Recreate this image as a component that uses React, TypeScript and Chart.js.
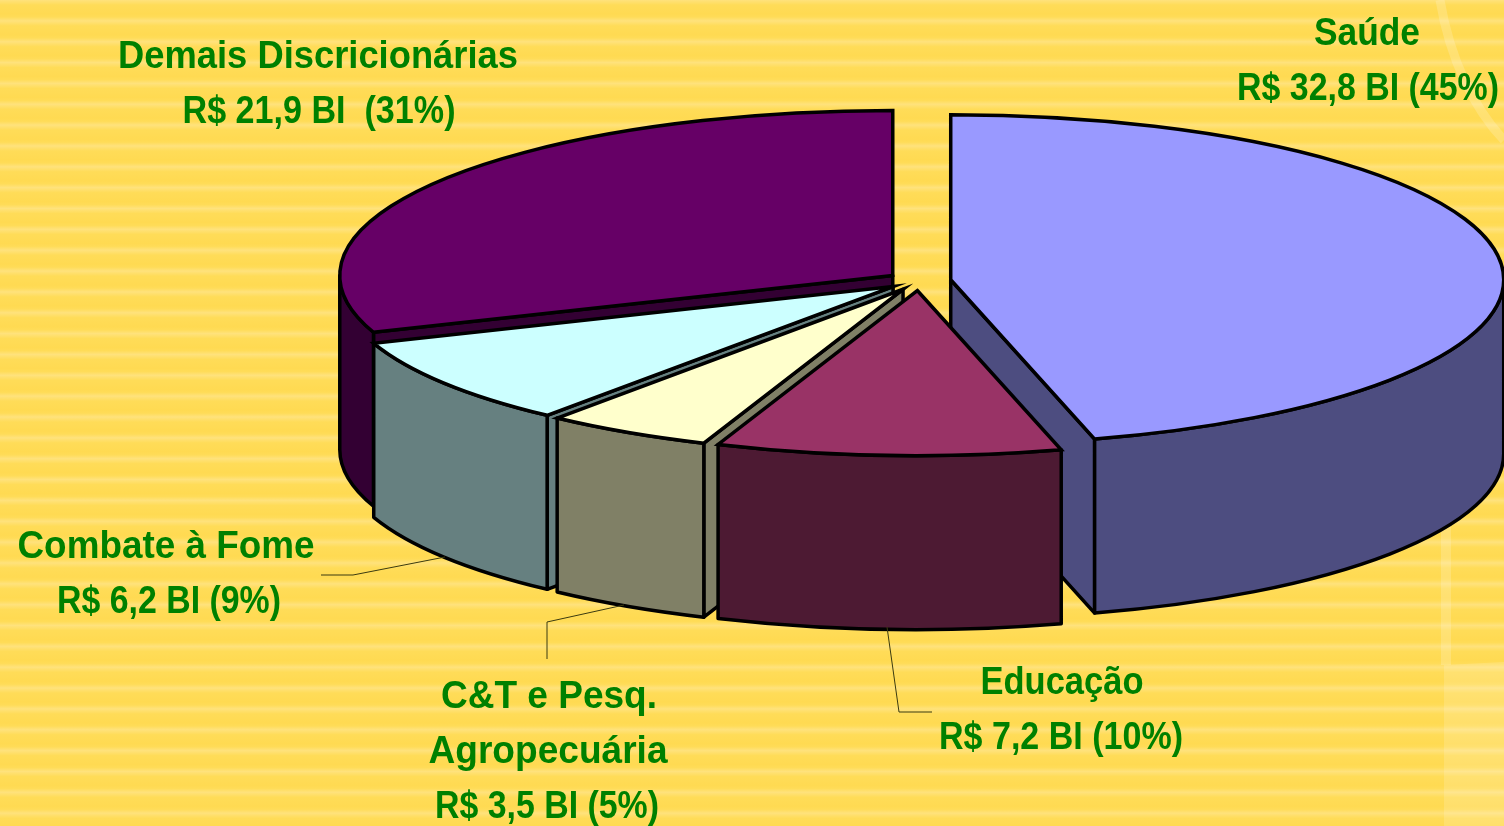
import React, { useEffect, useRef } from "react";
import { Chart, registerables } from "chart.js";

Chart.register(...registerables);

// ---- data (clockwise from 12 o'clock) ----
const categories = ["Saúde", "Educação", "C&T e Pesq. Agropecuária", "Combate à Fome", "Demais Discricionárias"];
const values = [32.8, 7.2, 3.5, 6.2, 21.9];
const topColors = ["#9999FF", "#993366", "#FFFFCC", "#CCFFFF", "#660066"];
const sideColors = ["#4D4D80", "#4D1A33", "#808066", "#668080", "#330033"];
const labelLines = [
  ["Saúde", "R$ 32,8 BI (45%)"],
  ["Educação", "R$ 7,2 BI (10%)"],
  ["C&T e Pesq.", "Agropecuária", "R$ 3,5 BI (5%)"],
  ["Combate à Fome", "R$ 6,2 BI (9%)"],
  ["Demais Discricionárias", "R$ 21,9 BI  (31%)"],
];

// ---- layout ----
const W = 1504;
const H = 826;
const CX = 919;
const CY = 281;
const RADIUS = 553;
const SQUASH = 165 / 553;
const DEPTH = 174;
const EXPLODE = 32;
const LINE = 3.5;
const GREEN = "#008000";
const labelPlace = [
  { xs: [1367, 1368], y: 45, widths: [106, 262] },
  { xs: [1062, 1061], y: 694, widths: [163, 244] },
  { xs: [549, 548, 547], y: 708, widths: [216, 239, 224] },
  { xs: [166, 169], y: 558, widths: [297, 224] },
  { xs: [318, 319], y: 68, widths: [400, 273] },
];
const LINE_GAP = 55;
const leaders = [
  [[887, 627], [899, 712], [932, 712]],
  [[547, 659], [547, 622], [624, 605]],
  [[321, 575], [353, 575], [445, 557]],
];

function geometry(arc: any) {
  const half = (arc.startAngle + arc.endAngle) / 2;
  const x = arc.x + Math.cos(half) * EXPLODE;
  const y = CY + (arc.y - CY + Math.sin(half) * EXPLODE) * SQUASH;
  return { x, y, rx: arc.outerRadius, ry: arc.outerRadius * SQUASH, a0: arc.startAngle, a1: arc.endAngle, half };
}

const pie3d = {
  id: "pie3d",
  beforeDatasetDraw() {
    // the arcs are drawn below, each one moved and squashed
    return false;
  },
  beforeDatasetsDraw(chart: any) {
    const ctx = chart.ctx;
    const arcs = chart.getDatasetMeta(0).data;
    const order = arcs.map((_: any, i: number) => i).sort((a: number, b: number) => {
      return Math.sin(geometry(arcs[a]).half) - Math.sin(geometry(arcs[b]).half);
    });
    ctx.save();
    ctx.lineWidth = LINE;
    ctx.strokeStyle = "#000";
    ctx.lineJoin = "round";
    const face = (g: any, a: number) => {
      const ex = g.x + g.rx * Math.cos(a);
      const ey = g.y + g.ry * Math.sin(a);
      ctx.beginPath();
      ctx.moveTo(g.x, g.y);
      ctx.lineTo(ex, ey);
      ctx.lineTo(ex, ey + DEPTH);
      ctx.lineTo(g.x, g.y + DEPTH);
      ctx.closePath();
      ctx.fill();
      ctx.stroke();
    };
    for (const i of order) {
      const g = geometry(arcs[i]);
      ctx.fillStyle = sideColors[i];
      // only the cut faces that look towards the viewer
      if (-Math.cos(g.a0) > 1e-6) face(g, g.a0);
      if (Math.cos(g.a1) > 1e-6) face(g, g.a1);
      const from = Math.max(g.a0, 0);
      const to = Math.min(g.a1, Math.PI);
      if (to > from) {
        ctx.beginPath();
        ctx.ellipse(g.x, g.y, g.rx, g.ry, 0, from, to);
        ctx.ellipse(g.x, g.y + DEPTH, g.rx, g.ry, 0, to, from, true);
        ctx.closePath();
        ctx.fill();
        ctx.stroke();
      }
    }
    ctx.restore();
    // the top of every slice: the library's arc element, squashed and pulled out
    for (const arc of arcs) {
      const g = geometry(arc);
      ctx.save();
      ctx.translate(0, CY);
      ctx.scale(1, SQUASH);
      ctx.translate(0, -CY);
      ctx.translate(Math.cos(g.half) * EXPLODE, Math.sin(g.half) * EXPLODE);
      arc.draw(ctx);
      ctx.restore();
    }
  },
  afterDatasetsDraw(chart: any) {
    const ctx = chart.ctx;
    const arcs = chart.getDatasetMeta(0).data;
    ctx.save();
    ctx.lineWidth = LINE;
    ctx.strokeStyle = "#000";
    ctx.lineJoin = "miter";
    for (const arc of arcs) {
      const g = geometry(arc);
      ctx.beginPath();
      ctx.moveTo(g.x, g.y);
      ctx.ellipse(g.x, g.y, g.rx, g.ry, 0, g.a0, g.a1);
      ctx.closePath();
      ctx.stroke();
    }
    // leader lines
    ctx.lineWidth = 1;
    ctx.strokeStyle = "#3a3a10";
    for (const pts of leaders) {
      ctx.beginPath();
      pts.forEach(([x, y], i) => (i ? ctx.lineTo(x, y) : ctx.moveTo(x, y)));
      ctx.stroke();
    }
    // labels
    ctx.fillStyle = GREEN;
    ctx.textAlign = "center";
    ctx.textBaseline = "alphabetic";
    ctx.font = 'bold 38px "Liberation Sans", Arial, sans-serif';
    labelLines.forEach((lines, i) => {
      const p = labelPlace[i];
      lines.forEach((t, j) => ctx.fillText(t, p.xs[j], p.y + j * LINE_GAP, p.widths[j]));
    });
    ctx.restore();
  },
};

export default function App() {
  const ref = useRef<HTMLCanvasElement>(null);
  useEffect(() => {
    const chart = new Chart(ref.current as HTMLCanvasElement, {
      type: "pie",
      data: {
        labels: categories,
        datasets: [
          {
            data: values,
            backgroundColor: topColors,
            borderWidth: 0,
            radius: RADIUS,
            clip: false,
          } as any,
        ],
      },
      options: {
        responsive: false,
        animation: false,
        events: [],
        layout: { padding: { left: 2 * CX - W, top: 0, right: 0, bottom: H - 2 * CY } },
        plugins: { legend: { display: false }, tooltip: { enabled: false }, title: { display: false } },
      },
      plugins: [pie3d],
    } as any);
    return () => chart.destroy();
  }, []);
  return (
    <div
      style={{
        position: "fixed",
        left: 0,
        top: 0,
        width: W,
        height: H,
        overflow: "hidden",
        background:
          "repeating-linear-gradient(180deg, #FFE27C 0px, #FFDC58 5px, #FFDA52 14px, #FFDC58 17px, #FFE27C 20.85px)",
      }}
    >
      <svg width={W} height={H} style={{ position: "absolute", left: 0, top: 0 }}>
        <path d="M1440 0 C1450 60 1475 110 1504 140" stroke="#fff" strokeOpacity={0.18} strokeWidth={9} fill="none" />
        <path d="M1446 520 L1446 665" stroke="#fff" strokeOpacity={0.18} strokeWidth={10} fill="none" />
        <path d="M1444 665 L1504 662 L1504 826 L1444 826 Z" fill="#fff" fillOpacity={0.15} />
      </svg>
      <canvas ref={ref} width={W} height={H} style={{ position: "absolute", left: 0, top: 0, display: "block" }} />
    </div>
  );
}
